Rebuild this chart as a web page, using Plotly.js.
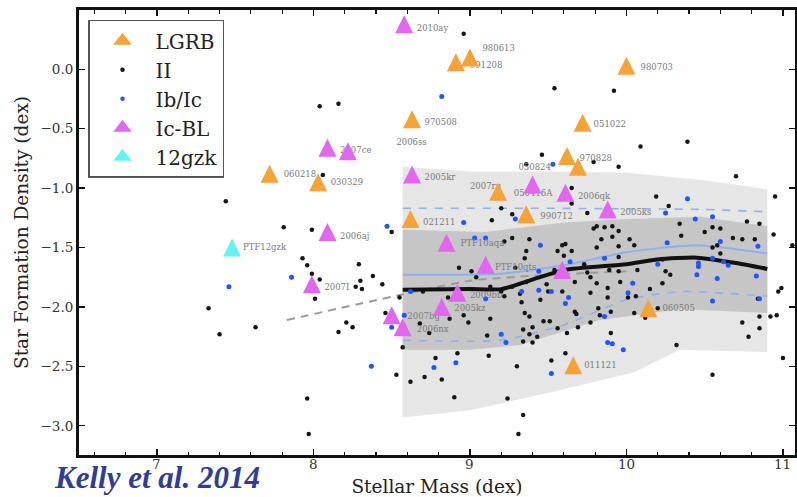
<!DOCTYPE html>
<html>
<head>
<meta charset="utf-8">
<script src="https://cdn.plot.ly/plotly-3.0.1.min.js"></script>
<style>
  html, body { margin: 0; padding: 0; background: #fff; }
  #chart { width: 797px; height: 497px; }
</style>
</head>
<body>
<div id="chart"></div>
<script>
// ---- Host galaxies: stellar mass (dex) vs star formation density (dex) ----

// Long-duration GRB hosts
const lgrbMass = [7.72, 8.03, 9.00, 8.91, 8.63, 10.00, 9.72, 9.62, 9.69, 8.62, 9.18, 9.36, 10.14, 9.66];
const lgrbSfd  = [-0.88, -0.95, 0.10, 0.06, -0.42, 0.03, -0.45, -0.73, -0.82, -1.26, -1.03, -1.22, -2.01, -2.49];

// Type II SN hosts
const iiMass = [
  8.04, 8.16, 8.06, 7.44, 7.81, 7.99, 8.50, 7.93, 7.96, 7.99, 8.04, 8.29, 8.38, 8.30, 8.44, 8.27, 8.31, 8.01, 8.55, 7.33,
  7.40, 7.63, 8.16, 8.21, 8.25, 8.46, 8.53, 7.96, 7.97, 8.57,
  8.96, 9.54, 9.92, 10.09, 10.39, 9.46, 9.36, 9.79, 9.95, 10.70, 10.95, 10.19, 10.27, 9.20, 9.27, 9.14, 9.65, 9.65, 9.75, 10.77,
  10.85, 10.94, 10.34, 10.60, 10.50, 10.55, 10.68, 10.74, 10.82, 10.35,
  9.81, 9.86, 9.91, 9.95, 9.79, 9.27, 9.38, 9.59, 9.84, 9.91, 9.95, 10.05, 9.22, 9.36, 9.56, 9.61, 9.81, 10.02, 9.60, 9.65,
  9.35, 9.95, 9.73, 9.54, 9.29, 9.01, 9.04, 9.77, 9.81, 9.96,
  9.89, 9.67, 9.88, 9.49, 9.32, 9.22, 9.13, 9.59, 9.77, 9.88, 8.93, 10.58, 10.55, 10.60, 10.23, 10.07, 10.25, 10.28, 10.23, 10.15,
  10.06, 10.84, 10.99, 10.97, 11.06,
  8.70, 8.86, 8.68, 8.74, 8.87, 8.96, 8.62, 8.71, 8.78, 8.82, 8.92, 8.90, 8.99, 9.13, 9.11, 9.12, 9.30, 9.24, 9.34, 9.31,
  9.35, 9.34, 9.40, 9.43, 9.40, 9.52, 9.61, 9.56, 9.62, 9.69, 9.77, 9.90, 10.32, 10.55, 10.74, 10.78, 10.85, 10.85, 10.92, 10.96, 11.00,
  9.67, 9.82, 9.83, 9.47, 9.38, 9.20, 9.27, 9.36, 9.50, 9.75, 9.95, 10.01, 10.05, 10.12, 10.20, 9.51, 9.68, 9.90, 9.45, 9.33,
  9.38, 9.34
];
const iiSfd = [
  -0.31, -0.29, -0.89, -1.11, -1.33, -1.35, -1.37, -1.59, -1.65, -1.72, -1.77, -1.64, -1.74, -1.78, -1.81, -1.83, -1.85, -1.93, -1.92, -2.01,
  -2.23, -2.17, -2.21, -2.13, -2.17, -2.05, -2.57, -2.77, -3.07, -2.34,
  0.30, -0.16, -0.18, -0.65, -0.61, -0.72, -0.80, -0.78, -0.82, -0.90, -1.07, -1.07, -1.15, -1.17, -1.22, -1.27, -1.00, -1.13, -1.21, -1.28,
  -1.30, -1.39, -1.30, -1.34, -1.37, -1.33, -1.42, -1.43, -1.43, -1.40,
  -1.32, -1.33, -1.32, -1.36, -1.34, -1.42, -1.43, -1.48, -1.43, -1.41, -1.49, -1.48, -1.45, -1.53, -1.53, -1.47, -1.50, -1.43, -1.57, -1.53,
  -1.59, -1.58, -1.64, -1.69, -1.67, -1.70, -1.75, -1.75, -1.80, -1.79,
  -1.69, -1.79, -1.84, -1.81, -1.89, -1.91, -1.83, -1.87, -1.88, -1.92, -1.67, -1.48, -1.50, -1.55, -1.60, -1.69, -1.70, -1.73, -1.80, -1.85,
  -1.91, -1.93, -1.84, -1.87, -1.48,
  -1.87, -1.92, -2.14, -2.22, -2.10, -2.07, -2.63, -2.59, -2.43, -2.61, -2.39, -2.76, -2.13, -2.10, -2.24, -2.41, -2.50, -2.77, -2.91, -3.07,
  -2.05, -2.19, -2.30, -2.25, -2.17, -2.45, -2.39, -2.18, -2.22, -2.17, -2.13, -2.22, -2.32, -2.57, -2.13, -2.25, -2.18, -2.08, -2.08, -2.07, -2.43,
  -2.04, -2.01, -2.07, -2.12, -2.08, -1.87, -1.83, -1.79, -1.87, -1.71, -1.70, -1.92, -2.05, -2.09, -2.01, -2.12, -2.06, -2.04, -1.94, -1.96,
  -2.23, -2.29
];

// Type Ib/Ic SN hosts
const ibcMass = [
  8.82, 8.47, 7.46, 7.86, 8.37, 8.50, 8.58, 8.77, 8.91, 8.62, 9.53, 10.39, 10.25, 10.44, 10.55, 9.29, 8.96, 9.03, 9.10, 9.45,
  10.26, 10.60, 10.84, 9.64, 9.86, 9.44, 10.04, 9.52, 9.63, 10.01, 9.10, 10.55, 10.20, 10.46, 10.46, 10.62, 10.65, 10.45, 10.58, 10.83,
  10.55, 9.20, 9.23, 9.52, 9.88, 9.91, 9.98, 9.86, 9.61, 10.85, 9.44, 9.33
];
const ibcSfd = [
  -0.23, -1.32, -1.83, -1.75, -2.50, -2.17, -2.07, -2.51, -2.47, -1.87, -0.80, -1.09, -1.21, -1.26, -1.24, -1.26, -1.29, -1.42, -1.42, -1.48,
  -1.46, -1.45, -1.49, -1.62, -1.59, -1.70, -1.80, -1.87, -1.92, -1.88, -1.93, -1.59, -1.64, -1.63, -1.66, -1.62, -1.65, -1.73, -1.76, -1.74,
  -1.95, -2.23, -2.30, -2.56, -2.30, -2.31, -2.36, -2.08, -1.97, -1.93, -1.86, -1.87
];

// Broad-lined Ic SN hosts
const icblMass = [8.58, 8.09, 8.22, 8.09, 7.99, 8.63, 8.85, 9.10, 9.59, 8.92, 8.82, 8.50, 8.57, 9.40, 9.61, 9.88];
const icblSfd  = [0.38, -0.66, -0.69, -1.37, -1.81, -0.885, -1.46, -1.645, -1.69, -1.88, -2.00, -2.07, -2.17, -0.97, -1.04, -1.18];

// SN PTF12gzk
const gzkMass = [7.48];
const gzkSfd  = [-1.50];

// Object names written beside the markers
const labelText = ["2010ay", "980613", "991208", "980703", "970508", "2006ss", "051022", "970828", "060218", "030329",
                   "2007ce", "2006aj", "PTF12gzk", "2007I", "2005kr", "021211", "2007ru", "050824", "050416A", "2006qk",
                   "990712", "2005ks", "PTF10aqa", "PTF10qts", "2009bb", "2005kz", "2007bg", "2006nx", "060505", "011121"];
const labelMass = [8.66, 9.08, 9.00, 10.09, 8.71, 8.53, 9.79, 9.70, 7.81, 8.11,
                   8.17, 8.17, 7.55, 8.07, 8.71, 8.70, 9.00, 9.31, 9.28, 9.69,
                   9.45, 9.96, 8.94, 9.16, 9.00, 8.90, 8.60, 8.66, 10.23, 9.73];
const labelSfd  = [0.34, 0.17, 0.025, 0.01, -0.455, -0.62, -0.47, -0.75, -0.89, -0.96,
                   -0.69, -1.41, -1.50, -1.84, -0.91, -1.29, -0.99, -0.83, -1.05, -1.07,
                   -1.24, -1.21, -1.47, -1.67, -1.91, -2.02, -2.08, -2.19, -2.02, -2.50];

// Running median of the type II hosts and its spread bands
const bandMass     = [8.57, 9.0, 9.5, 10.0, 10.47, 10.9];
const outerUpper   = [-0.82, -0.86, -0.86, -0.87, -0.93, -1.01];
const lowerMassOut = [8.57, 9.0, 9.51, 10.05, 10.34, 10.9];
const outerLower   = [-2.93, -2.87, -2.72, -2.55, -2.36, -2.38];
const innerMassUp  = [8.57, 9.1, 9.6, 10.0, 10.47, 10.9];
const innerUpper   = [-1.35, -1.37, -1.29, -1.26, -1.24, -1.32];
const innerMassLo  = [8.57, 9.0, 9.32, 9.83, 10.34, 10.9];
const innerLower   = [-2.36, -2.36, -2.32, -2.11, -2.02, -2.05];
const medianMass   = [8.57, 9.0, 9.2, 9.4, 9.6, 10.0, 10.2, 10.45, 10.7, 10.9];
const medianSfd    = [-1.855, -1.85, -1.85, -1.77, -1.69, -1.64, -1.60, -1.585, -1.63, -1.68];

// Ib/Ic running median and spread
const ibcLineMass  = [8.57, 9.2, 9.6, 10.0, 10.45, 10.9];
const ibcMedian    = [-1.73, -1.72, -1.65, -1.54, -1.48, -1.55];
const ibcUpMass    = [8.57, 9.5, 10.5, 10.9];
const ibcUpper     = [-1.17, -1.17, -1.18, -1.20];
const ibcLoMass    = [8.57, 9.2, 9.6, 10.0, 10.35, 10.9];
const ibcLower     = [-2.28, -2.28, -2.15, -1.94, -1.87, -1.91];

// Low-mass extension of the median
const extMass = [7.83, 8.55, 9.0, 9.5, 10.0];
const extSfd  = [-2.11, -1.90, -1.78, -1.73, -1.70];

// Legend entries, in display order
const legendNames  = ['LGRB', 'II', 'Ib/Ic', 'Ic-BL', '12gzk'];
const legendColors = ['#f5a236', '#151515', '#1f55ff', '#e266f0', '#66f2f2'];

// Stellar-mass tick labels
const massTicks = [7, 8, 9, 10, 11];
const massTickText = ['7', '8', '9', '10', '11'];

// ---- traces ----
const SERIF = 'DejaVu Serif';
const band = (xu, yu, xl, yl, color) => ({
  x: xu.concat(xl.slice().reverse()),
  y: yu.concat(yl.slice().reverse()),
  type: 'scatter', mode: 'lines', fill: 'toself', fillcolor: color,
  line: { width: 0 }, hoverinfo: 'skip', showlegend: false
});
const line = (x, y, color, width, dash) => ({
  x, y, type: 'scatter', mode: 'lines',
  line: { color, width, dash: dash || 'solid', shape: 'spline', smoothing: 0.6 },
  hoverinfo: 'skip', showlegend: false
});
// upward triangle with equal width and height, centred on the point
const tri = (color) => ({ symbol: 'arrow-down', angle: 180, standoff: 9, size: 18, color, line: { width: 0 } });
const pts = (name, x, y, marker) => ({ name, x, y, type: 'scatter', mode: 'markers', marker, showlegend: false });

const traces = [
  band(bandMass, outerUpper, lowerMassOut, outerLower, '#e6e6e6'),
  band(innerMassUp, innerUpper, innerMassLo, innerLower, '#c6c6c6'),
  line(ibcUpMass, ibcUpper, '#8fb0ea', 1.6, '8px,8px'),
  line(ibcLoMass, ibcLower, '#8fb0ea', 1.6, '8px,8px'),
  line(ibcLineMass, ibcMedian, '#8fb0ea', 2),
  line(extMass, extSfd, '#9a9a9a', 2, '8px,6px'),
  line(medianMass, medianSfd, '#111111', 4),
  pts('II', iiMass, iiSfd, { symbol: 'circle', size: 4.5, color: legendColors[1] }),
  pts('Ib/Ic', ibcMass, ibcSfd, { symbol: 'circle', size: 5, color: legendColors[2] }),
  { x: labelMass, y: labelSfd, text: labelText, type: 'scatter', mode: 'text',
    textposition: 'middle right', textfont: { family: SERIF, size: 8.5, color: '#7a7a7a' },
    hoverinfo: 'skip', showlegend: false },
  pts('LGRB', lgrbMass, lgrbSfd, tri(legendColors[0])),
  pts('Ic-BL', icblMass, icblSfd, tri(legendColors[3])),
  pts('12gzk', gzkMass, gzkSfd, tri(legendColors[4]))
];

// legend keys (no data of their own)
legendNames.forEach((name, i) => {
  const isTri = name !== 'II' && name !== 'Ib/Ic';
  traces.push({
    name, x: [null], y: [null], type: 'scatter', mode: 'markers', legendrank: i + 1,
    marker: isTri ? { symbol: 'triangle-up', size: 16, color: legendColors[i] }
                  : { symbol: 'circle', size: 4.5, color: legendColors[i] }
  });
});

const axisBase = {
  showgrid: false, zeroline: false, showline: true, linewidth: 3, linecolor: '#111',
  mirror: 'allticks', ticks: 'inside', ticklen: 6, tickwidth: 1.4, tickcolor: '#111',
  tickfont: { family: SERIF, size: 13.5, color: '#333' }
};

// x tick labels sit close under the frame
const tickAnnotations = massTicks.map((v, i) => ({
  text: massTickText[i], xref: 'x', yref: 'paper', x: v, y: 0.002,
  xanchor: 'center', yanchor: 'top', showarrow: false,
  font: { family: SERIF, size: 13.5, color: '#333' }
}));

const layout = {
  width: 797, height: 497,
  margin: { l: 79, r: 2, t: 10, b: 42, pad: 0 },
  paper_bgcolor: '#ffffff', plot_bgcolor: '#ffffff',
  font: { family: SERIF, color: '#222' },
  showlegend: true,
  xaxis: Object.assign({}, axisBase, {
    range: [6.502, 11.077], tickmode: 'array', tickvals: massTicks, showticklabels: false,
    minor: { tickmode: 'linear', tick0: 7, dtick: 0.2, ticks: 'inside', ticklen: 3.5, tickwidth: 1.2, tickcolor: '#111', showgrid: false },
    title: { text: 'Stellar Mass (dex)', font: { family: SERIF, size: 18.5, color: '#222' }, standoff: 24 }
  }),
  yaxis: Object.assign({}, axisBase, {
    range: [-3.246, 0.499], tick0: 0, dtick: 0.5, tickformat: '.1f',
    title: { text: 'Star Formation Density (dex)', font: { family: SERIF, size: 18.5, color: '#222' }, standoff: 8 }
  }),
  legend: {
    x: 0.0126, y: 0.978, xanchor: 'left', yanchor: 'top',
    bgcolor: '#ffffff', bordercolor: '#555', borderwidth: 1.5,
    font: { family: SERIF, size: 20, color: '#222' },
    itemwidth: 56, tracegroupgap: 0
  },
  annotations: tickAnnotations.concat([{
    text: 'Kelly et al. 2014', xref: 'paper', yref: 'paper',
    x: -0.0377, y: -0.0935, xanchor: 'left', yanchor: 'bottom', showarrow: false,
    font: { family: 'Liberation Serif', size: 31, style: 'italic', weight: 'bold', color: '#2e3d98' }
  }])
};

Plotly.newPlot('chart', traces, layout, { displayModeBar: false, staticPlot: true });
</script>
</body>
</html>
